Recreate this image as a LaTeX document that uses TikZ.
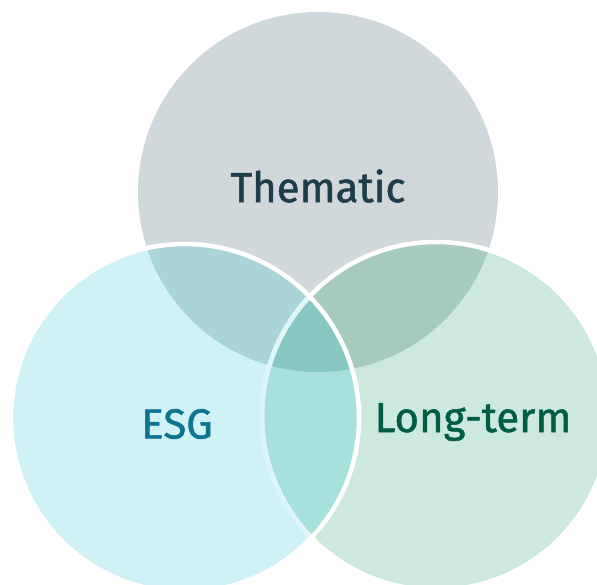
\documentclass[tikz,border=0pt]{standalone}
\usepackage{fontspec}
\setmainfont{Fira Sans}
\newfontfamily\vennfont{Fira Sans}[FakeBold=1.2]
\usetikzlibrary{calc}
\definecolor{themgray}{HTML}{D1D8DB}
\definecolor{esgcyan}{HTML}{D0F1F5}
\definecolor{longgreen}{HTML}{CDE9DF}
\definecolor{themesg}{HTML}{ABD4D8}
\definecolor{themlong}{HTML}{A7CABE}
\definecolor{esglong}{HTML}{A6E1DC}
\definecolor{allthree}{HTML}{88C8C2}
\definecolor{themtext}{HTML}{1D3D4B}
\definecolor{esgtext}{HTML}{0B7592}
\definecolor{longtext}{HTML}{005C45}
\tikzset{
  rim/.style={draw=white, line width=4.5pt},
  venntext/.style={font=\vennfont\fontsize{42}{48}\selectfont, inner sep=0pt}
}

\begin{document}
\begin{tikzpicture}[x=1pt, y=-1pt]
			%%%%% START %%%%%
			\useasboundingbox (0, 0) rectangle (597, 584);
			\clip (0, 0) rectangle (597, 584);
			
			\coordinate (ct) at (318, 192);
			\coordinate (cl) at (185, 418);
			\coordinate (cr) at (436, 416);
			
			% plain circles
			\fill[themgray] (ct) circle (180pt);
			\fill[longgreen] (cr) circle (174pt);
			\fill[esgcyan] (cl) circle (174pt);
			
			% overlaps
			\begin{scope}
				\clip (ct) circle (180pt);
				\fill[themlong] (cr) circle (174pt);
				\fill[themesg] (cl) circle (174pt);
			\end{scope}
			\begin{scope}
				\clip (cl) circle (174pt);
				\fill[esglong] (cr) circle (174pt);
			\end{scope}
			\begin{scope}
				\clip (ct) circle (180pt);
				\clip (cl) circle (174pt);
				\fill[allthree] (cr) circle (174pt);
			\end{scope}
			
			% white rims
			\draw[rim] (cr) circle (174pt);
			\begin{scope}
				\clip (cl) circle (174pt);
				\draw[rim, draw=esgcyan!70!white] (cr) circle (174pt);
			\end{scope}
			\draw[rim] (cl) circle (174pt);
			
			\node[venntext, text=themtext] (thematic) at (318, 186) {Thematic};
			\node[venntext, text=esgtext] (esg) at (177, 424) {ESG};
			\node[venntext, text=longtext] (longterm) at (473, 422) {Long-term};
			
			%%%%% END %%%%%
\end{tikzpicture}
\end{document}
